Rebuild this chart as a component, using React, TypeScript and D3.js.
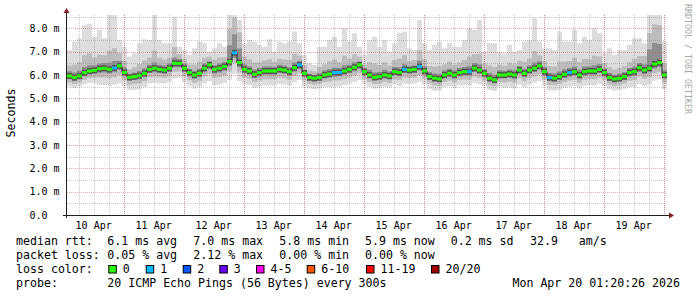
import React from "react";
import * as d3 from "d3";

// ---- data (2-hour blocks, 10 Apr 01:20 → 20 Apr 01:20) ----
const median = [
  5.96, 5.89, 5.96, 6.10, 6.17, 6.20, 6.27, 6.29, 6.24, 6.30,
  6.39, 6.11, 5.90, 5.93, 5.97, 6.07, 6.24, 6.29, 6.24, 6.21,
  6.29, 6.50, 6.50, 6.29, 6.10, 6.00, 6.07, 6.29, 6.43, 6.24,
  6.29, 6.36, 6.57, 6.95, 6.53, 6.24, 6.17, 6.03, 6.10, 6.17,
  6.17, 6.17, 6.24, 6.21, 6.14, 6.31, 6.43, 6.07, 5.89, 5.86,
  5.89, 6.00, 6.04, 6.10, 6.11, 6.17, 6.24, 6.33, 6.43, 6.14,
  6.00, 5.90, 5.93, 6.00, 5.96, 6.14, 6.11, 6.24, 6.21, 6.24,
  6.36, 6.17, 5.93, 5.86, 5.83, 6.00, 6.07, 6.00, 6.10, 6.14,
  6.14, 6.29, 6.21, 6.07, 5.86, 5.79, 6.00, 6.00, 6.04, 6.00,
  6.21, 6.07, 6.21, 6.29, 6.39, 6.14, 5.89, 5.86, 5.93, 6.03,
  6.10, 6.14, 6.00, 6.14, 6.17, 6.17, 6.24, 6.10, 5.89, 5.83,
  5.86, 5.93, 6.10, 6.14, 6.31, 6.21, 6.29, 6.47, 6.53, 6.00,
];

const pingMax = [
  7.07, 7.43, 7.57, 8.14, 8.19, 7.64, 7.93, 7.57, 8.60, 8.60,
  7.50, 7.21, 6.79, 6.93, 7.36, 7.53, 7.50, 8.60, 7.50, 7.36,
  7.36, 8.50, 7.21, 7.07, 6.86, 7.14, 7.43, 7.36, 7.00, 7.14,
  7.36, 7.21, 8.60, 8.60, 8.36, 7.36, 7.50, 7.43, 7.29, 7.21,
  7.53, 7.00, 7.43, 7.36, 7.43, 7.86, 7.36, 6.86, 6.50, 6.43,
  7.19, 7.21, 7.50, 7.64, 7.21, 8.00, 7.43, 7.79, 7.21, 6.86,
  7.50, 7.64, 7.21, 7.50, 7.00, 7.36, 7.81, 7.86, 7.14, 7.07,
  8.36, 7.36, 7.07, 7.29, 7.43, 7.14, 7.36, 7.21, 7.21, 7.50,
  8.00, 7.93, 8.36, 7.00, 7.36, 7.36, 7.00, 6.93, 7.29, 7.00,
  7.07, 7.43, 7.50, 8.43, 7.43, 7.14, 7.14, 7.07, 7.86, 7.43,
  7.43, 7.93, 7.36, 7.64, 7.50, 8.00, 7.79, 6.93, 7.14, 6.86,
  7.07, 7.07, 7.29, 7.57, 7.57, 7.36, 8.60, 8.60, 8.60, 7.43,
];

// distance below the median of the lowest ping
const spreadMin = [
  0.45, 0.45, 0.45, 0.50, 0.50, 0.55, 0.70, 0.72, 0.70, 0.72,
  0.75, 0.60, 0.55, 0.57, 0.57, 0.60, 0.60, 0.62, 0.60, 0.58,
  0.60, 0.65, 0.62, 0.60, 0.58, 0.58, 0.60, 0.65, 0.70, 0.68,
  0.70, 0.70, 0.80, 0.90, 0.80, 0.65, 0.60, 0.58, 0.60, 0.62,
  0.62, 0.63, 0.63, 0.62, 0.60, 0.62, 0.65, 0.55, 0.47, 0.47,
  0.47, 0.50, 0.55, 0.60, 0.60, 0.60, 0.62, 0.63, 0.65, 0.55,
  0.50, 0.48, 0.50, 0.50, 0.50, 0.55, 0.58, 0.62, 0.60, 0.62,
  0.65, 0.58, 0.52, 0.52, 0.50, 0.52, 0.55, 0.55, 0.55, 0.58,
  0.60, 0.62, 0.60, 0.55, 0.50, 0.48, 0.50, 0.55, 0.58, 0.58,
  0.62, 0.60, 0.62, 0.62, 0.65, 0.60, 0.55, 0.52, 0.55, 0.58,
  0.60, 0.60, 0.58, 0.60, 0.60, 0.62, 0.62, 0.58, 0.50, 0.50,
  0.50, 0.52, 0.62, 0.65, 0.70, 0.68, 0.70, 0.72, 0.72, 0.60,
];

// distance below the median of the 10th percentile ping
const spreadLow10 = [
  0.28, 0.28, 0.28, 0.30, 0.30, 0.32, 0.38, 0.40, 0.38, 0.40,
  0.40, 0.34, 0.32, 0.32, 0.32, 0.34, 0.34, 0.35, 0.34, 0.33,
  0.34, 0.36, 0.35, 0.34, 0.33, 0.33, 0.34, 0.36, 0.38, 0.37,
  0.38, 0.38, 0.42, 0.45, 0.42, 0.36, 0.34, 0.33, 0.34, 0.35,
  0.35, 0.35, 0.35, 0.35, 0.34, 0.35, 0.36, 0.32, 0.28, 0.28,
  0.28, 0.30, 0.32, 0.34, 0.34, 0.34, 0.35, 0.35, 0.36, 0.32,
  0.30, 0.29, 0.30, 0.30, 0.30, 0.32, 0.33, 0.35, 0.34, 0.35,
  0.36, 0.33, 0.30, 0.30, 0.30, 0.30, 0.32, 0.32, 0.32, 0.33,
  0.34, 0.35, 0.34, 0.32, 0.30, 0.28, 0.30, 0.32, 0.33, 0.33,
  0.35, 0.34, 0.35, 0.35, 0.36, 0.34, 0.32, 0.30, 0.32, 0.33,
  0.34, 0.34, 0.33, 0.34, 0.34, 0.35, 0.35, 0.33, 0.30, 0.30,
  0.30, 0.30, 0.35, 0.36, 0.38, 0.37, 0.38, 0.40, 0.40, 0.34,
];

// distance below the median of the 25th percentile ping
const spreadLow25 = [
  0.14, 0.14, 0.14, 0.15, 0.15, 0.16, 0.18, 0.18, 0.18, 0.18,
  0.18, 0.16, 0.15, 0.15, 0.15, 0.16, 0.16, 0.17, 0.16, 0.16,
  0.16, 0.17, 0.17, 0.16, 0.16, 0.16, 0.16, 0.17, 0.18, 0.18,
  0.18, 0.18, 0.20, 0.22, 0.20, 0.17, 0.16, 0.16, 0.16, 0.16,
  0.16, 0.16, 0.16, 0.16, 0.16, 0.16, 0.17, 0.15, 0.14, 0.14,
  0.14, 0.15, 0.15, 0.16, 0.16, 0.16, 0.16, 0.17, 0.17, 0.15,
  0.15, 0.14, 0.15, 0.15, 0.15, 0.15, 0.16, 0.16, 0.16, 0.16,
  0.17, 0.16, 0.15, 0.15, 0.15, 0.15, 0.15, 0.15, 0.15, 0.16,
  0.16, 0.16, 0.16, 0.15, 0.15, 0.14, 0.15, 0.15, 0.16, 0.16,
  0.16, 0.16, 0.16, 0.16, 0.17, 0.16, 0.15, 0.15, 0.15, 0.16,
  0.16, 0.16, 0.16, 0.16, 0.16, 0.16, 0.16, 0.16, 0.15, 0.15,
  0.15, 0.15, 0.16, 0.17, 0.18, 0.18, 0.18, 0.19, 0.19, 0.16,
];

// distance above the median of the 75th percentile ping
const spreadUp75 = [
  0.20, 0.22, 0.22, 0.25, 0.25, 0.22, 0.22, 0.22, 0.28, 0.30,
  0.22, 0.20, 0.15, 0.18, 0.20, 0.22, 0.20, 0.25, 0.20, 0.20,
  0.20, 0.25, 0.18, 0.18, 0.15, 0.18, 0.20, 0.20, 0.15, 0.18,
  0.20, 0.20, 0.70, 0.80, 0.60, 0.22, 0.20, 0.20, 0.20, 0.20,
  0.20, 0.18, 0.20, 0.20, 0.20, 0.22, 0.18, 0.15, 0.15, 0.15,
  0.20, 0.20, 0.22, 0.22, 0.20, 0.25, 0.20, 0.22, 0.15, 0.15,
  0.22, 0.22, 0.20, 0.22, 0.20, 0.20, 0.22, 0.22, 0.18, 0.18,
  0.25, 0.20, 0.20, 0.20, 0.22, 0.20, 0.20, 0.20, 0.20, 0.20,
  0.25, 0.22, 0.25, 0.18, 0.22, 0.22, 0.20, 0.18, 0.20, 0.20,
  0.18, 0.20, 0.20, 0.25, 0.20, 0.20, 0.20, 0.20, 0.22, 0.22,
  0.20, 0.22, 0.22, 0.22, 0.20, 0.25, 0.22, 0.18, 0.20, 0.18,
  0.20, 0.20, 0.20, 0.22, 0.20, 0.25, 0.80, 0.90, 0.80, 0.20,
];

// distance above the median of the 90th percentile ping
const spreadUp90 = [
  0.45, 0.55, 0.60, 0.75, 0.75, 0.55, 0.60, 0.55, 0.80, 0.85,
  0.55, 0.50, 0.35, 0.40, 0.50, 0.55, 0.50, 0.75, 0.50, 0.45,
  0.45, 0.70, 0.40, 0.40, 0.35, 0.45, 0.50, 0.45, 0.35, 0.40,
  0.45, 0.40, 1.40, 1.50, 1.30, 0.55, 0.50, 0.50, 0.45, 0.45,
  0.50, 0.40, 0.45, 0.45, 0.50, 0.60, 0.40, 0.35, 0.30, 0.30,
  0.45, 0.45, 0.55, 0.55, 0.45, 0.65, 0.45, 0.55, 0.35, 0.30,
  0.55, 0.60, 0.50, 0.55, 0.45, 0.50, 0.60, 0.60, 0.40, 0.40,
  0.70, 0.50, 0.45, 0.50, 0.55, 0.45, 0.50, 0.45, 0.45, 0.50,
  0.65, 0.60, 0.70, 0.40, 0.55, 0.55, 0.45, 0.40, 0.50, 0.45,
  0.40, 0.50, 0.50, 0.75, 0.45, 0.45, 0.50, 0.50, 0.65, 0.55,
  0.50, 0.60, 0.55, 0.55, 0.50, 0.65, 0.55, 0.40, 0.45, 0.40,
  0.45, 0.45, 0.45, 0.55, 0.50, 0.60, 1.50, 1.70, 1.60, 0.50,
];

// lost pings (out of 20) per block
const lostPings = [
  0, 0, 0, 0, 0, 0, 0, 0, 0, 1,
  0, 0, 0, 0, 0, 0, 0, 0, 0, 0,
  0, 0, 0, 0, 0, 0, 0, 0, 0, 0,
  0, 0, 0, 1, 0, 0, 0, 0, 0, 0,
  0, 0, 0, 0, 0, 0, 1, 0, 0, 0,
  0, 0, 0, 1, 1, 0, 0, 0, 0, 0,
  0, 0, 0, 0, 0, 0, 0, 1, 0, 0,
  1, 0, 0, 0, 0, 0, 0, 0, 0, 0,
  1, 0, 0, 0, 0, 0, 0, 0, 0, 0,
  0, 0, 0, 0, 0, 0, 1, 0, 0, 0,
  1, 0, 0, 0, 0, 0, 0, 0, 0, 0,
  0, 0, 0, 0, 0, 0, 0, 0, 0, 0,
];

const yTicks = [0, 1, 2, 3, 4, 5, 6, 7, 8];
const yTickLabels = ["0.0", "1.0 m", "2.0 m", "3.0 m", "4.0 m", "5.0 m", "6.0 m", "7.0 m", "8.0 m"];
const dayNumbers = [10, 11, 12, 13, 14, 15, 16, 17, 18, 19];
const dayLabels = ["10 Apr", "11 Apr", "12 Apr", "13 Apr", "14 Apr", "15 Apr", "16 Apr", "17 Apr", "18 Apr", "19 Apr"];

const rowTitles = ["median rtt:", "packet loss:", "loss color:", "probe:"];
const rttStats = ["6.1 ms avg", "7.0 ms max", "5.8 ms min", "5.9 ms now", "0.2 ms sd", "32.9   am/s"];
const lossStats = ["0.05 % avg", "2.12 % max", "0.00 % min", "0.00 % now"];
const lossLegendLabels = ["0", "1", "2", "3", "4-5", "6-10", "11-19", "20/20"];
const lossLegendColors = ["#26ff00", "#00b8ff", "#0059ff", "#6a00ff", "#ff00ee", "#ff5500", "#ff0000", "#a10000"];
const probeText = "20 ICMP Echo Pings (56 Bytes) every 300s";
const dateText = "Mon Apr 20 01:20:26 2026";
const creditText = "RRDTOOL / TOBI OETIKER";

// ---- layout ----
const W = 697, H = 297;
const PL = 67, PR = 667, PT = 15, PB = 215;
const Y_MAX = 8.57;
const START = new Date(2026, 3, 10, 1, 20, 26);
const END = new Date(2026, 3, 20, 1, 20, 26);
const STEP_MS = 2 * 3600 * 1000;
const MONO = "'DejaVu Sans Mono', monospace";
const statX = [107.3, 193.3, 279.3, 365, 450.7, 530];
const legendBoxX = [108.3, 145.7, 182.7, 219.3, 256, 306.7, 366, 431];

function lossColor(l: number) {
  if (l <= 0) return lossLegendColors[0];
  if (l === 1) return lossLegendColors[1];
  if (l === 2) return lossLegendColors[2];
  if (l === 3) return lossLegendColors[3];
  if (l <= 5) return lossLegendColors[4];
  if (l <= 10) return lossLegendColors[5];
  if (l <= 19) return lossLegendColors[6];
  return lossLegendColors[7];
}

type P = { t: Date; j: number };

export default function App() {
  const x = d3.scaleTime().domain([START, END]).range([PL, PR]);
  const y = d3.scaleLinear().domain([0, Y_MAX]).range([PB, PT]);
  const n = median.length;
  const pts: P[] = d3.range(n + 1).map((i) => ({
    t: new Date(START.getTime() + i * STEP_MS),
    j: Math.min(i, n - 1),
  }));

  const band = (lo: (j: number) => number, hi: (j: number) => number) =>
    d3
      .area<P>()
      .x((d) => x(d.t))
      .y0((d) => y(lo(d.j)))
      .y1((d) => y(hi(d.j)))
      .curve(d3.curveStepAfter)(pts) || "";

  const outer = band((j) => median[j] - spreadMin[j], (j) => pingMax[j]);
  const mid = band((j) => median[j] - spreadLow10[j], (j) => median[j] + spreadUp90[j]);
  const inner = band((j) => median[j] - spreadLow25[j], (j) => median[j] + spreadUp75[j]);
  const medLine =
    d3
      .line<P>()
      .x((d) => x(d.t))
      .y((d) => y(median[d.j]))
      .curve(d3.curveStepAfter)(pts) || "";

  const minorV = d3.timeHour.every(6)!.range(START, END);
  const majorV = d3.timeDay.range(START, END);
  const minorH = d3.range(0.5, Y_MAX, 1);

  const lineY = [245, 259, 273, 287];

  return (
    <svg
      width={W}
      height={H}
      viewBox={`0 0 ${W} ${H}`}
      style={{ position: "absolute", left: 0, top: 0, background: "#fff" }}
      fontFamily={MONO}
    >
      <rect x={0} y={0} width={W} height={H} fill="#ffffff" />
      <defs>
        <clipPath id="plot">
          <rect x={PL} y={PT} width={PR - PL} height={PB - PT} />
        </clipPath>
      </defs>

      {/* smoke */}
      <g clipPath="url(#plot)">
        <path d={outer} fill="#dddddd" />
        <path d={mid} fill="#bdbdbd" />
        <path d={inner} fill="#8e8e8e" />
        {median.map((m, i) => (
          <rect
            key={"core" + i}
            x={x(pts[i].t)}
            y={y(m) - 3}
            width={x(pts[i + 1].t) - x(pts[i].t)}
            height={6}
            fill="#555555"
          />
        ))}
      </g>

      {/* grid on top */}
      <g shapeRendering="crispEdges">
        {minorH.map((v) => (
          <line key={"mh" + v} x1={PL} x2={PR} y1={Math.round(y(v)) + 0.5} y2={Math.round(y(v)) + 0.5}
            stroke="rgba(143,143,143,0.45)" strokeDasharray="1,1" />
        ))}
        {minorV.map((t, i) => (
          <line key={"mv" + i} x1={Math.round(x(t)) + 0.5} x2={Math.round(x(t)) + 0.5} y1={PT} y2={PB}
            stroke="rgba(143,143,143,0.45)" strokeDasharray="1,1" />
        ))}
        {yTicks.slice(1).map((v) => (
          <line key={"Mh" + v} x1={PL} x2={PR} y1={Math.round(y(v)) + 0.5} y2={Math.round(y(v)) + 0.5}
            stroke="rgba(222,79,79,0.5)" strokeDasharray="1,1" />
        ))}
        {majorV.map((t, i) => (
          <line key={"Mv" + i} x1={Math.round(x(t)) + 0.5} x2={Math.round(x(t)) + 0.5} y1={PT} y2={PB}
            stroke="rgba(222,79,79,0.5)" strokeDasharray="1,1" />
        ))}
      </g>

      {/* median */}
      <g clipPath="url(#plot)">
        <path d={medLine} fill="none" stroke="#202020" strokeWidth={1} />
        {median.map((m, i) => (
          <rect
            key={"med" + i}
            x={x(pts[i].t)}
            y={y(m) - 1.5}
            width={x(pts[i + 1].t) - x(pts[i].t)}
            height={3}
            fill={lossColor(lostPings[i])}
          />
        ))}
      </g>

      {/* axes */}
      <g shapeRendering="crispEdges">
        <line x1={PL - 0.5} x2={PL - 0.5} y1={PB + 3} y2={11} stroke="#1f1f1f" />
        <line x1={PL - 4} x2={670} y1={PB + 0.5} y2={PB + 0.5} stroke="#1f1f1f" />
      </g>
      <path d={`M${PL - 3.5},13 L${PL + 2.5},13 L${PL - 0.5},8 Z`} fill="#801f1f" />
      <path d={`M669,${PB - 2.5} L669,${PB + 3.5} L674,${PB + 0.5} Z`} fill="#801f1f" />

      {/* y tick labels */}
      {yTicks.map((v, i) => (
        <text key={"yl" + v} x={29.5} y={y(v) + 3.6} fontSize={10} fill="#000">
          {yTickLabels[i]}
        </text>
      ))}
      {/* x labels */}
      {dayNumbers.map((d, i) => (
        <text key={"xl" + d} x={x(new Date(2026, 3, d, 12))} y={228.5} fontSize={10} textAnchor="middle" fill="#000">
          {dayLabels[i]}
        </text>
      ))}

      {/* axis title */}
      <text transform="translate(15,113) rotate(-90)" fontSize={11.6} textAnchor="middle" fill="#000">
        Seconds
      </text>

      {/* credit */}
      <text transform="translate(685,4) rotate(90)" fontSize={8.3} fill="#a8a8a8">
        {creditText}
      </text>

      {/* legend */}
      <g fontSize={11.6} fill="#000" style={{ whiteSpace: "pre" }}>
        {rowTitles.map((t, i) => (
          <text key={"rt" + i} x={16} y={lineY[i]} xmlSpace="preserve">{t}</text>
        ))}
        {rttStats.map((t, i) => (
          <text key={"rs" + i} x={statX[i]} y={lineY[0]} xmlSpace="preserve">{t}</text>
        ))}
        {lossStats.map((t, i) => (
          <text key={"ls" + i} x={statX[i]} y={lineY[1]} xmlSpace="preserve">{t}</text>
        ))}
        {lossLegendLabels.map((t, i) => (
          <g key={"lg" + i}>
            <rect x={legendBoxX[i] + 0.5} y={265.5} width={7.5} height={7.5} fill={lossLegendColors[i]} stroke="#000" strokeWidth={1} />
            <text x={legendBoxX[i] + 14.5} y={lineY[2]}>{t}</text>
          </g>
        ))}
        <text x={statX[0]} y={lineY[3]}>{probeText}</text>
        <text x={680} y={lineY[3]} textAnchor="end">{dateText}</text>
      </g>
    </svg>
  );
}
